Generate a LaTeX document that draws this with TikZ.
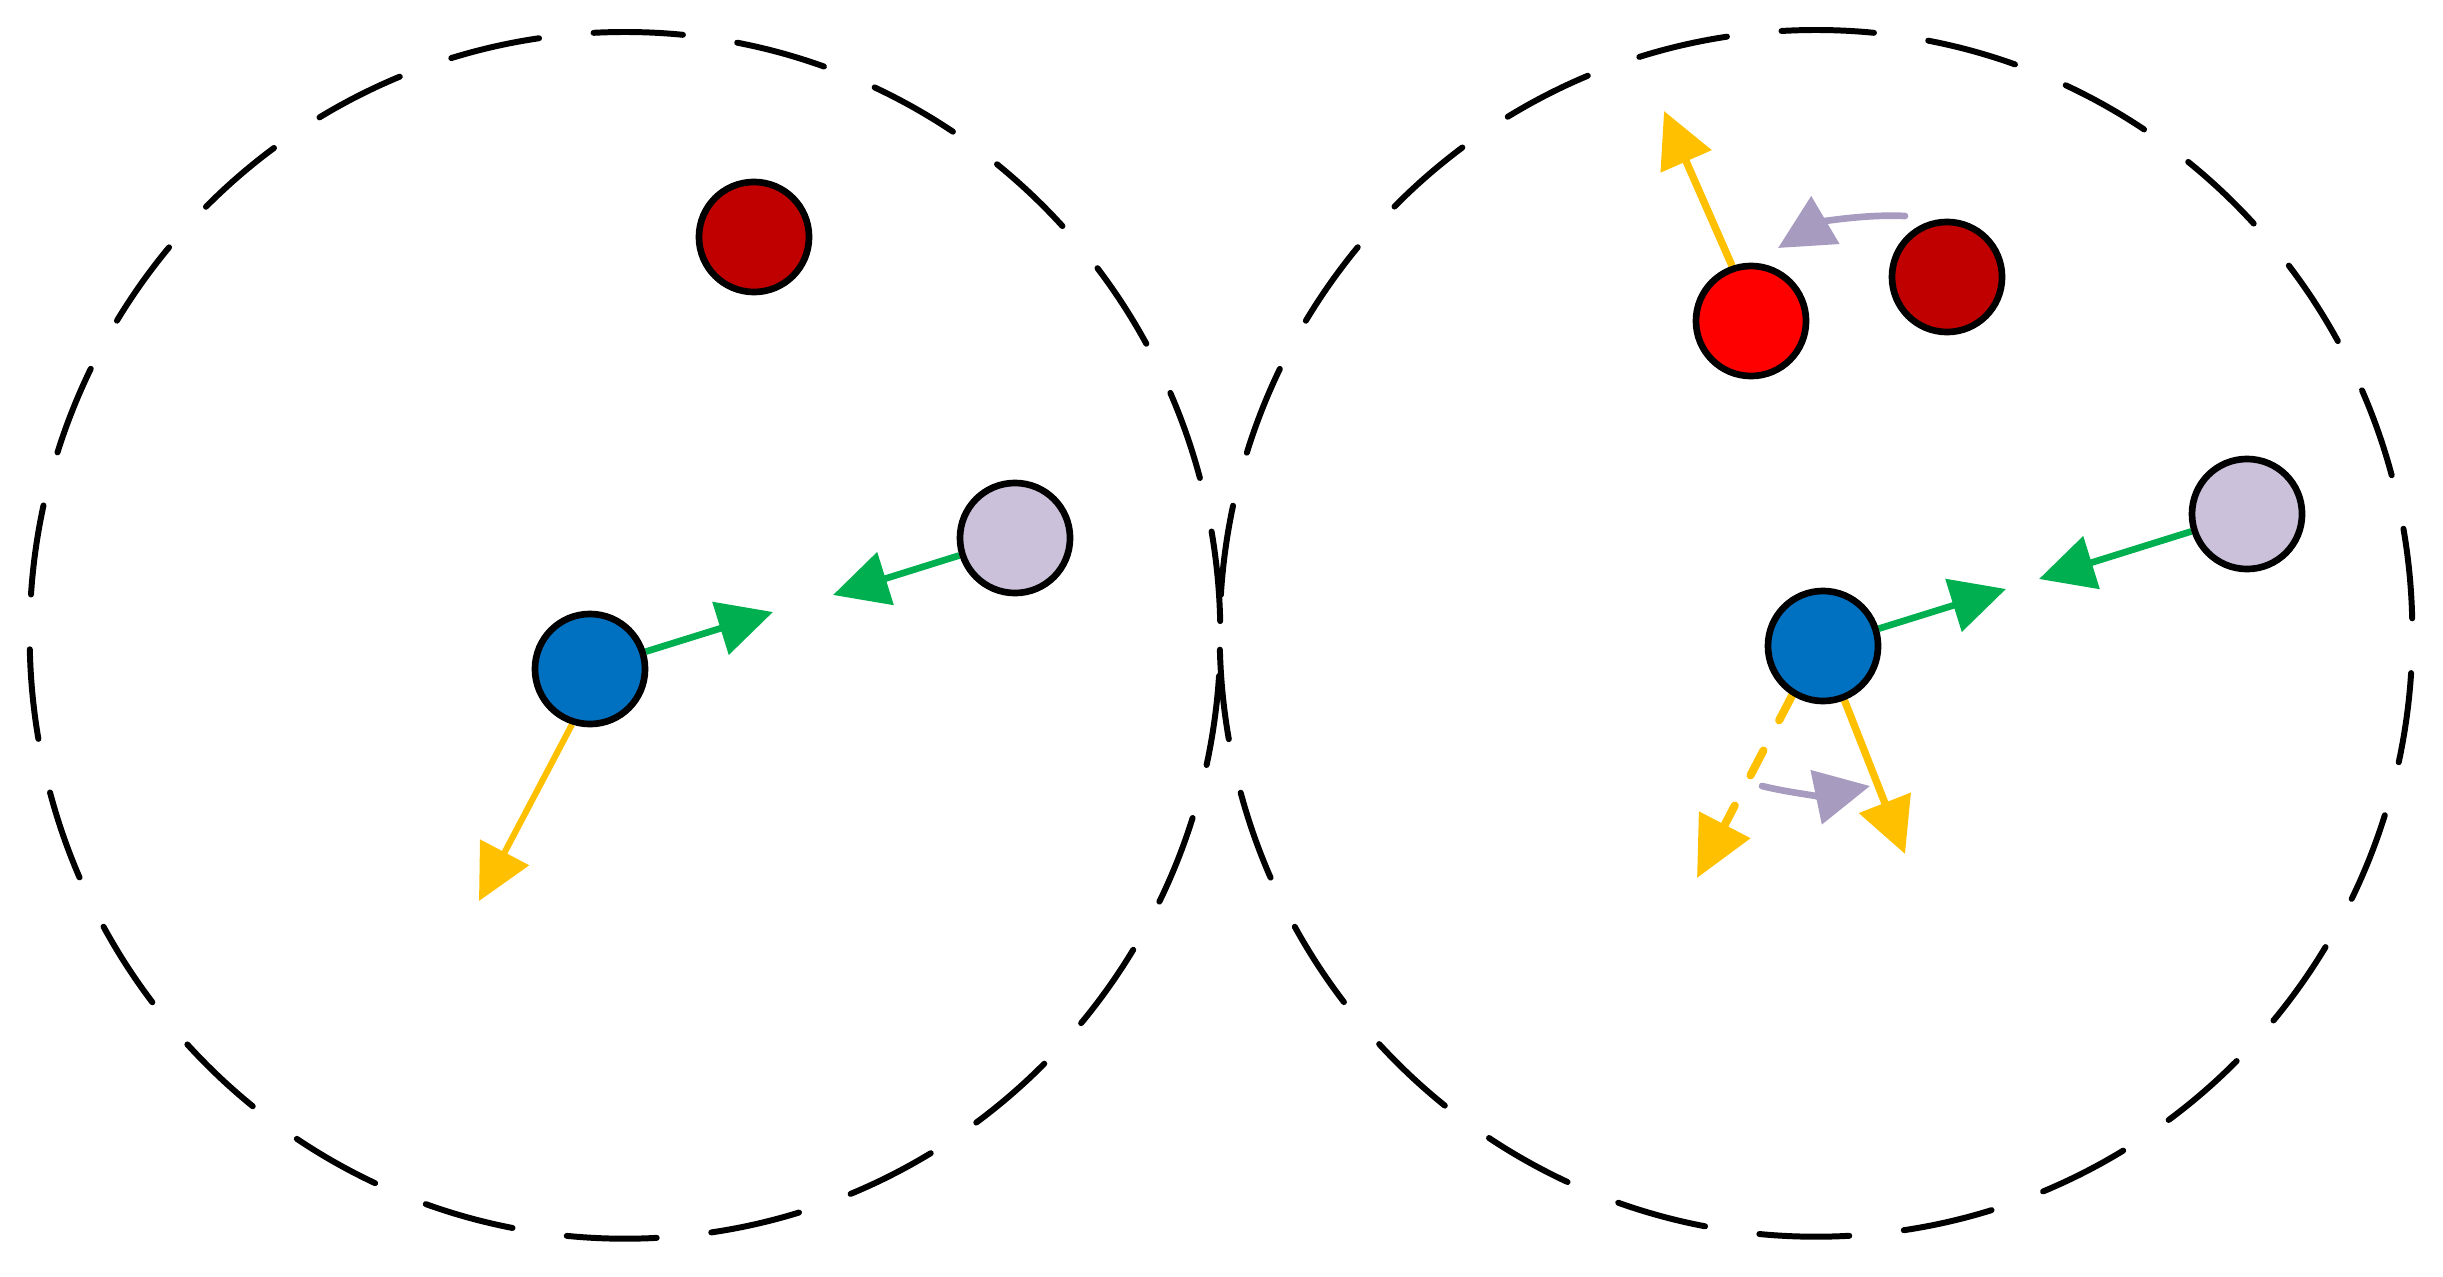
\documentclass[tikz,border=0pt]{standalone}
\usetikzlibrary{arrows.meta}
\definecolor{dred}{HTML}{C00000}
\definecolor{bred}{HTML}{FF0000}
\definecolor{bblue}{HTML}{0070C0}
\definecolor{lav}{HTML}{CCC1DA}
\definecolor{ggreen}{HTML}{00B050}
\definecolor{yyellow}{HTML}{FFC000}
\definecolor{ppurple}{RGB}{168,155,192}
\pgfdeclarelayer{bg}
\pgfsetlayers{bg,main}
\tikzset{
  ball/.style={circle, draw=black, line width=1.9pt, minimum size=1.1cm, inner sep=0pt},
  dcirc/.style={draw=black, line width=1.7pt, line cap=round, dash pattern=on 0.90cm off 0.548cm, dash phase=0.32cm},
  tipA/.style={-{Triangle[length=0.55cm, width=0.54cm]}},
  garrow/.style={tipA, draw=ggreen, line width=1.9pt},
  yarrow/.style={tipA, draw=yyellow, line width=2.1pt},
  parrow/.style={tipA, draw=ppurple, line width=1.9pt, line cap=round},
}
\begin{document}
\begin{tikzpicture}[x=0.01cm, y=-0.01cm]
\useasboundingbox (0,0) rectangle (2443,1276);
% dashed circles
\coordinate (topL) at (625,32);
\coordinate (topR) at (1816,30);
\draw[dcirc] (topL) arc[start angle=90, end angle=-270, x radius=5.95cm, y radius=6.03cm];
\draw[dcirc] (topR) arc[start angle=90, end angle=-270, x radius=5.96cm, y radius=6.03cm];
% left nodes
\node[ball, fill=dred] (dL) at (754,237) {};
\node[ball, fill=lav] (lavL) at (1015,538) {};
\node[ball, fill=bblue] (bluL) at (590,669) {};
% right nodes
\node[ball, fill=bred] (redR) at (1751,321) {};
\node[ball, fill=dred] (dR) at (1947,277) {};
\node[ball, fill=lav] (lavR) at (2247,514) {};
\node[ball, fill=bblue] (bluR) at (1823,646) {};
% free ends
\coordinate (gL1) at (773,612);
\coordinate (gL2) at (833,595);
\coordinate (yL) at (479,901);
\coordinate (gR1) at (2006,589);
\coordinate (gR2) at (2039,579);
\coordinate (yR1) at (1905,854);
\coordinate (yR2) at (1697,878);
\coordinate (yR3) at (1664,111);
\coordinate (pS1) at (1905,216);
\coordinate (pT1) at (1778,248);
\coordinate (pS2) at (1762,786);
\coordinate (pT2) at (1870,786);
\begin{pgfonlayer}{bg}
\draw[garrow] (bluL) -- (gL1);
\draw[garrow] (lavL) -- (gL2);
\draw[yarrow, line width=1.75pt] (bluL.252) -- (yL);
\draw[garrow] (bluR) -- (gR1);
\draw[garrow] (lavR) -- (gR2);
\draw[yarrow] (bluR) -- (yR1);
\draw[yarrow, line width=2.3pt, line cap=round, dash pattern=on 0.28cm off 0.34cm, -{Triangle[length=0.6cm, width=0.56cm]}] (bluR.238) -- (yR2);
\draw[yarrow] (redR.109) -- (yR3);
\draw[parrow] (pS1) .. controls (1865,214) and (1822,222) .. (pT1);
\draw[parrow] (pS2) .. controls (1790,793) and (1822,796) .. (pT2);
\end{pgfonlayer}
\end{tikzpicture}
\end{document}
